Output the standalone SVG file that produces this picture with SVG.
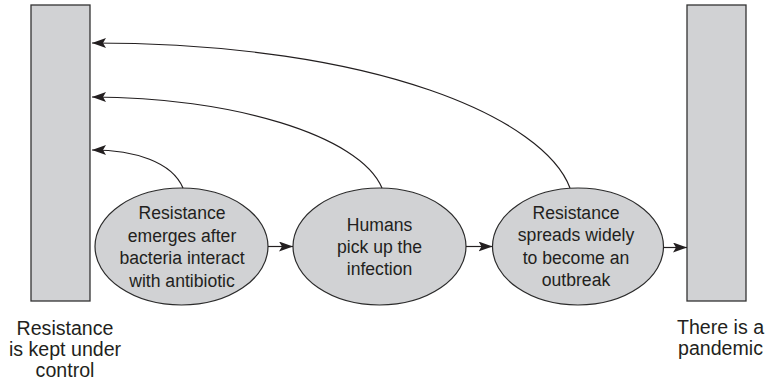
<svg xmlns="http://www.w3.org/2000/svg" width="770" height="383" viewBox="0 0 770 383">
<style>
.box{fill:#d1d2d4;stroke:#333;stroke-width:1.3}
.el{fill:#d1d2d4;stroke:#2b2b2b;stroke-width:1.2}
.t{font-family:"Liberation Sans",Arial,sans-serif;font-size:17.6px;fill:#231f20;text-anchor:middle}
.lb{font-family:"Liberation Sans",Arial,sans-serif;font-size:19.6px;fill:#231f20;text-anchor:middle}
.c{fill:none;stroke:#231f20;stroke-width:1.2}
</style>
<defs>
<marker id="ah" markerUnits="userSpaceOnUse" markerWidth="14" markerHeight="10" viewBox="0 0 14 10" refX="14" refY="5" orient="auto">
<path d="M0,0 L14,5 L0,10 L3,5 Z" fill="#231f20"/>
</marker>
</defs>
<g id="keptUnderControl">
<rect class="box" x="31" y="5" width="59" height="296"/>
<text class="lb" x="65" y="335">Resistance</text>
<text class="lb" x="65" y="356">is kept under</text>
<text class="lb" x="65" y="377">control</text>
</g>
<g id="pandemic">
<rect class="box" x="687" y="5" width="59" height="296"/>
<text class="lb" x="720.5" y="334">There is a</text>
<text class="lb" x="720.5" y="355">pandemic</text>
</g>
<g id="emerges">
<ellipse class="el" cx="181.5" cy="246.5" rx="86.5" ry="58.5"/>
<text class="t" x="182" y="219">Resistance</text>
<text class="t" x="182" y="241.5">emerges after</text>
<text class="t" x="182" y="264">bacteria interact</text>
<text class="t" x="182" y="286.5">with antibiotic</text>
</g>
<g id="humans">
<ellipse class="el" cx="379.5" cy="246.5" rx="86.5" ry="58.5"/>
<text class="t" x="379.5" y="231">Humans</text>
<text class="t" x="379.5" y="253">pick up the</text>
<text class="t" x="379.5" y="275">infection</text>
</g>
<g id="spreads">
<ellipse class="el" cx="578" cy="246.5" rx="85.5" ry="58.5"/>
<text class="t" x="576" y="218.5">Resistance</text>
<text class="t" x="576" y="241">spreads widely</text>
<text class="t" x="576" y="263.5">to become an</text>
<text class="t" x="576" y="286">outbreak</text>
</g>
<g id="connectors">
<path class="c" d="M268,246.5 L293,246.5" marker-end="url(#ah)"/>
<path class="c" d="M466,246.5 L492.5,246.5" marker-end="url(#ah)"/>
<path class="c" d="M663.5,247.5 L687,247.5" marker-end="url(#ah)"/>
<path class="c" d="M183,188 C172,162 135,150 92,150" marker-end="url(#ah)"/>
<path class="c" d="M382,188 C360,135 230,97 92,97" marker-end="url(#ah)"/>
<path class="c" d="M570,188 C545,120 380,43 92,43" marker-end="url(#ah)"/>
</g>
</svg>
